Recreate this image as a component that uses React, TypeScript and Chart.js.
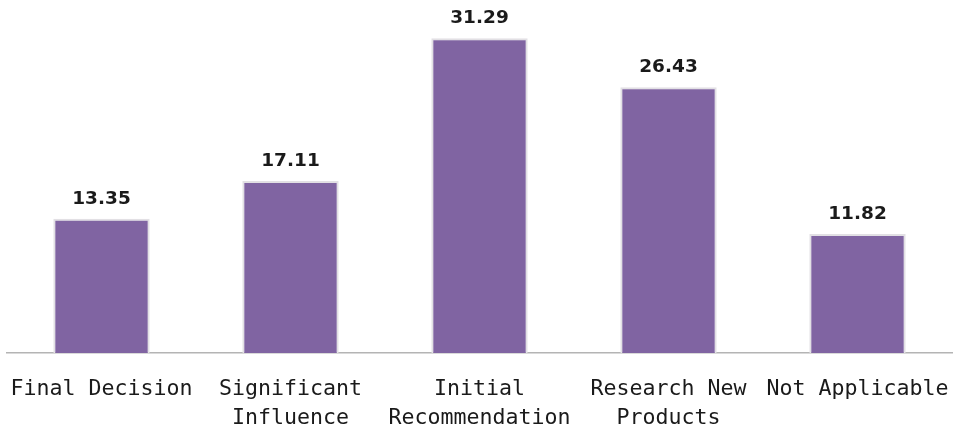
import React, { useEffect, useRef } from "react";
import { Chart, registerables } from "chart.js";

Chart.register(...registerables);

const categories: (string | string[])[] = [
  "Final Decision",
  ["Significant", "Influence"],
  ["Initial", "Recommendation"],
  ["Research New", "Products"],
  "Not Applicable",
];
const values: number[] = [13.35, 17.11, 31.29, 26.43, 11.82];
const valueLabels: string[] = ["13.35", "17.11", "31.29", "26.43", "11.82"];

const valueLabelPlugin = {
  id: "valueLabels",
  afterDatasetsDraw(chart: any) {
    const ctx = chart.ctx;
    const meta = chart.getDatasetMeta(0);
    ctx.save();
    ctx.font = "bold 18.5px 'DejaVu Sans'";
    ctx.fillStyle = "#1a1a1a";
    ctx.textAlign = "center";
    ctx.textBaseline = "alphabetic";
    meta.data.forEach((bar: any, i: number) => {
      ctx.fillText(valueLabels[i], bar.x, bar.y - 15);
    });
    ctx.restore();
  },
};

export default function App() {
  const canvasRef = useRef<HTMLCanvasElement | null>(null);

  useEffect(() => {
    if (!canvasRef.current) return;
    const chart = new Chart(canvasRef.current, {
      type: "bar",
      data: {
        labels: categories,
        datasets: [
          {
            data: values,
            backgroundColor: "#8064A2",
            borderColor: "#e2e0e4",
            borderWidth: { top: 2, left: 2, right: 2, bottom: 0 },
            borderSkipped: false,
            categoryPercentage: 1,
            barPercentage: 0.51,
          },
        ],
      },
      options: {
        animation: false,
        responsive: false,
        maintainAspectRatio: false,
        layout: { padding: { left: 7, right: 13, top: 1, bottom: 0 } },
        plugins: {
          legend: { display: false },
          tooltip: { enabled: false },
          title: { display: false },
        },
        scales: {
          x: {
            grid: { display: false },
            border: { display: true, color: "#b4b4b4", width: 1.5 },
            ticks: {
              color: "#1a1a1a",
              font: { family: "'DejaVu Sans Mono'", size: 21.6, lineHeight: 1.35 },
              padding: 14,
              maxRotation: 0,
              minRotation: 0,
              autoSkip: false,
            },
            afterFit: (scale: any) => {
              scale.height = 81;
              scale.paddingLeft = 0;
              scale.paddingRight = 0;
            },
          },
          y: {
            display: false,
            min: 0,
            max: 35,
          },
        },
      },
      plugins: [valueLabelPlugin],
    });
    return () => chart.destroy();
  }, []);

  return (
    <div style={{ position: "absolute", left: 0, top: 0, width: 965, height: 434, background: "#ffffff" }}>
      <canvas ref={canvasRef} width={965} height={434} style={{ width: 965, height: 434 }} />
    </div>
  );
}
